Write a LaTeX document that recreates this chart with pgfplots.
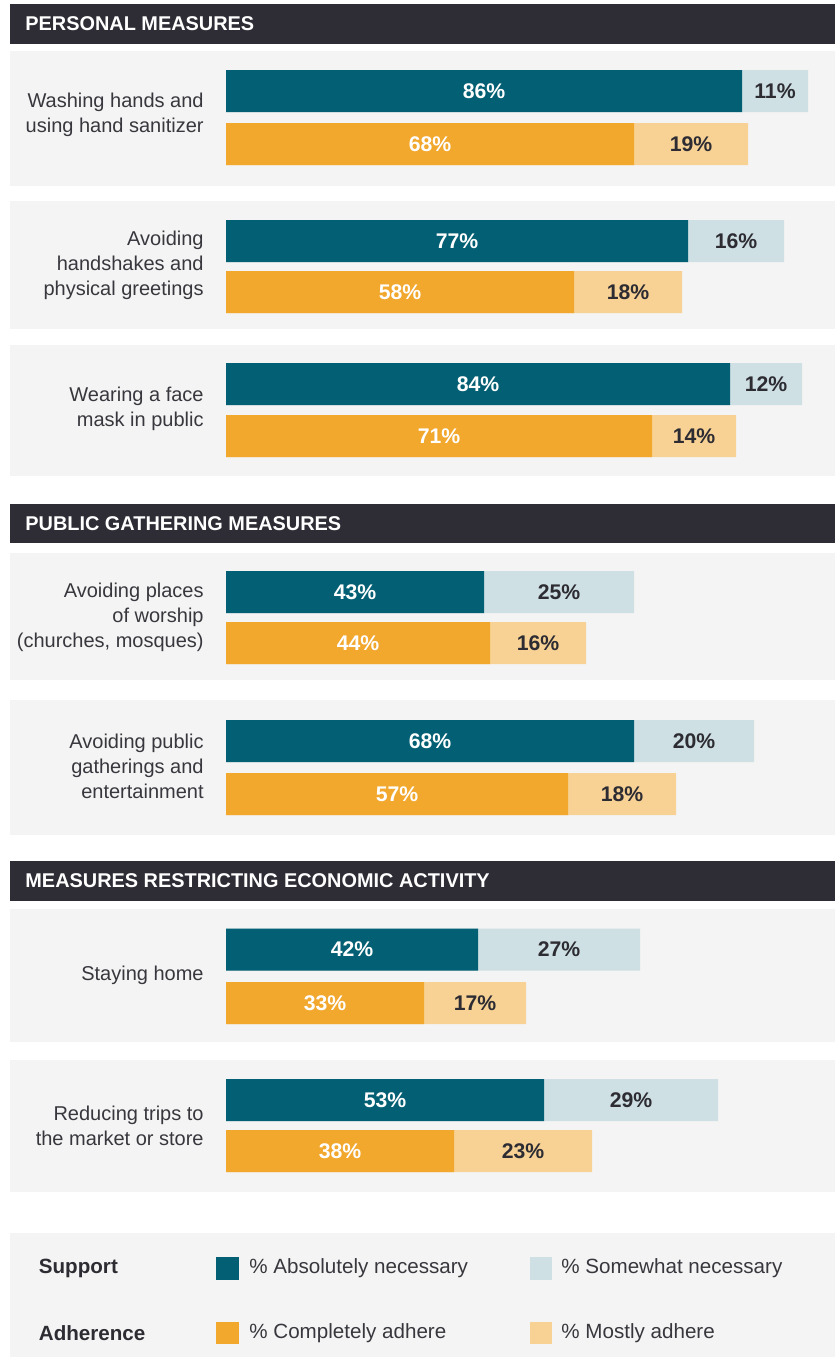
\documentclass[border=0pt]{standalone}
\usepackage{fontspec}
\setmainfont{Liberation Sans}
\usepackage{pgfplots}
\usepackage{pgfplotstable}
\pgfplotsset{compat=1.18}
\definecolor{tealD}{HTML}{035F73}
\definecolor{tealL}{HTML}{CEE0E4}
\definecolor{orD}{HTML}{F2A72D}
\definecolor{orL}{HTML}{F8D295}
\definecolor{panel}{HTML}{F4F4F4}
\definecolor{hdr}{HTML}{2E2D36}
\definecolor{txt}{HTML}{38373D}
\definecolor{num}{HTML}{2D2C33}

% support: y position (px from top), % absolutely necessary, % somewhat necessary
\pgfplotstableread{
y a b
91 86 11
241 77 16
384 84 12
592 43 25
741 68 20
949.5 42 27
1100 53 29
}\supportdata
% adherence: y position, % completely adhere, % mostly adhere
\pgfplotstableread{
y a b
144 68 19
292 58 18
436 71 14
643 44 16
794 57 18
1003 33 17
1151 38 23
}\adherdata

\newcommand{\lblfont}{\fontsize{10}{12.5}\selectfont}
\newcommand{\legfont}{\fontsize{10.3}{12.5}\selectfont}
\newcommand{\numfont}{\fontsize{10.6}{12.5}\selectfont\bfseries}
\newcommand{\hdrfont}{\fontsize{9.95}{12}\selectfont\bfseries}

\begin{document}
\begin{tikzpicture}
\begin{scope}[x=0.5pt,y=-0.5pt]
\path (0,0) rectangle (837,1357);
% headers
\fill[hdr] (10,4) rectangle (835,44);
\node[anchor=west,inner sep=0pt,text=white,font=\hdrfont] at (25,24) {PERSONAL MEASURES};
\fill[hdr] (10,504) rectangle (835,543);
\node[anchor=west,inner sep=0pt,text=white,font=\hdrfont] at (25,523.5) {PUBLIC GATHERING MEASURES};
\fill[hdr] (10,861) rectangle (835,901);
\node[anchor=west,inner sep=0pt,text=white,font=\hdrfont] at (25,881) {MEASURES RESTRICTING ECONOMIC ACTIVITY};
% panels
\fill[panel] (10,51) rectangle (835,186);
\fill[panel] (10,201) rectangle (835,329);
\fill[panel] (10,345) rectangle (835,476);
\fill[panel] (10,553) rectangle (835,680);
\fill[panel] (10,700) rectangle (835,835);
\fill[panel] (10,909) rectangle (835,1042);
\fill[panel] (10,1060) rectangle (835,1192);
\fill[panel] (10,1233) rectangle (835,1357);
% category labels
\begin{scope}[every node/.style={anchor=east,inner sep=0pt,align=right,text=txt,font=\lblfont}]
\node at (204,115) {Washing hands and\\using hand sanitizer};
\node at (204,265.5) {Avoiding\\handshakes and\\physical greetings};
\node at (204,409) {Wearing a face\\mask in public};
\node at (204,617) {Avoiding places\\of worship\\(churches, mosques)};
\node at (204,766) {Avoiding public\\gatherings and\\entertainment};
\node at (204,975) {Staying home};
\node at (204,1125.5) {Reducing trips to\\the market or store};
\end{scope}
% legend
\begin{scope}[every node/.style={anchor=west,inner sep=0pt,text=txt,font=\legfont}]
\node[font=\legfont\bfseries,text=num] at (38.5,1268) {Support};
\node[font=\legfont\bfseries,text=num] at (38.5,1333) {Adherence};
\fill[tealD] (216,1257) rectangle (239,1280);
\node at (249,1268) {\% Absolutely necessary};
\fill[tealL] (530,1257) rectangle (552,1280);
\node at (561,1268) {\% Somewhat necessary};
\fill[orD] (216,1322) rectangle (239,1344);
\node at (249,1333) {\% Completely adhere};
\fill[orL] (530,1322) rectangle (552,1344);
\node at (561,1333) {\% Mostly adhere};
\end{scope}
\end{scope}

\begin{axis}[
  at={(0pt,0pt)}, anchor=north west,
  scale only axis, width=418.5pt, height=678.5pt,
  hide axis, clip=false,
  xmin=-37.6667, xmax=101.8333,
  ymin=0, ymax=1357, y dir=reverse,
  /pgf/number format/assume math mode=true,
]
% bars: light bar spans both segments, dark bar laid over it
\addplot[xbar, bar width=21pt, bar shift=0pt, fill=tealL, draw=none]
  table[x expr=\thisrow{a}+\thisrow{b}, y=y] {\supportdata};
\addplot[xbar, bar width=21pt, bar shift=0pt, fill=tealD, draw=none]
  table[x=a, y=y] {\supportdata};
\addplot[xbar, bar width=21pt, bar shift=0pt, fill=orL, draw=none]
  table[x expr=\thisrow{a}+\thisrow{b}, y=y] {\adherdata};
\addplot[xbar, bar width=21pt, bar shift=0pt, fill=orD, draw=none]
  table[x=a, y=y] {\adherdata};
% value labels
\pgfplotsset{vlab/.style={draw=none, mark=none, point meta=explicit,
  nodes near coords={\pgfmathprintnumber{\pgfplotspointmeta}\%},
  nodes near coords align={center},
  every node near coord/.append style={anchor=center, font=\numfont, text=#1}}}
\addplot[vlab=white] table[x expr=\thisrow{a}/2, y=y, meta=a] {\supportdata};
\addplot[vlab=num] table[x expr=\thisrow{a}+\thisrow{b}/2, y=y, meta=b] {\supportdata};
\addplot[vlab=white] table[x expr=\thisrow{a}/2, y=y, meta=a] {\adherdata};
\addplot[vlab=num] table[x expr=\thisrow{a}+\thisrow{b}/2, y=y, meta=b] {\adherdata};
\end{axis}
\end{tikzpicture}
\end{document}
